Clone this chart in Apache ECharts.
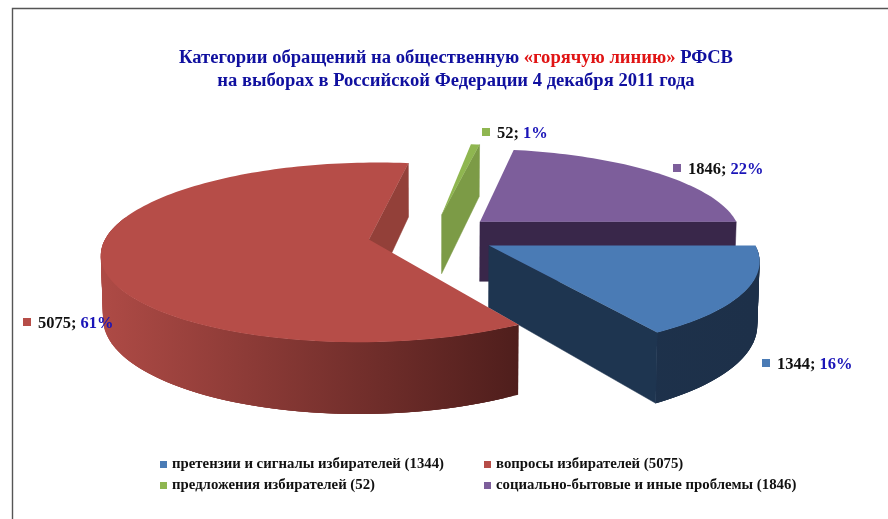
<!DOCTYPE html>
<html><head><meta charset="utf-8">
<style>html,body{margin:0;padding:0;background:#fff}#c{width:888px;height:519px}</style>
<script src="https://cdn.jsdelivr.net/npm/echarts@6/dist/echarts.min.js"></script>
</head><body><div id="c"></div>
<script>
const categories = ['претензии и сигналы избирателей', 'вопросы избирателей', 'предложения избирателей', 'социально-бытовые и иные проблемы'];
const values = [1344, 5075, 52, 1846];
const percents = [16, 61, 1, 22];

const topColors = ['#4A7BB5', '#B64D48', '#8FB650', '#7D5E9B'];
const sideColors = [['#1F3652', '#1D3049'], ['#AD4A45', '#4F1E1C'], ['#7A9A45', '#7A9A45'], ['#38263F', '#38263F']];
const cutColors = ['#1E3550', '#934039', '#7C9B46', '#39274A'];
const labelAnchors = [[766, 363], [27, 322], [486, 132], [677, 168]];
const drawOrder = [3, 2, 0, 1];

const FONT = '"Liberation Serif", serif';
const X0 = 432, Y0 = 235, R = 262, EXPLODE = 64, TILT = 0.331, PERSP = 0.143, DEPTH = 61, BOTTOM_X = 0.993;
const total = values.reduce((a, b) => a + b, 0);
const rad = d => d * Math.PI / 180;

function project(x, z, low) {
  const s = 1 / (1 - PERSP * z / R);
  return [X0 + x * s * (low ? BOTTOM_X : 1), Y0 + (TILT * z + (low ? DEPTH : 0)) * s];
}

function angles(i, value) {
  let before = 0;
  for (let k = 0; k < i; k++) before += values[k];
  const a0 = before / total * 360;
  return [a0, a0 + value / total * 360];
}

function sliceRenderer(i) {
  return function (params, api) {
    const [a0, a1] = angles(i, api.value(0));
    const mid = rad((a0 + a1) / 2);
    const ax = EXPLODE * Math.cos(mid), az = EXPLODE * Math.sin(mid);
    const rim = (deg, low) => project(ax + R * Math.cos(rad(deg)), az + R * Math.sin(rad(deg)), low);
    const children = [];

    // rim: overlapping quads over the half that faces the viewer (the top face hides any excess)
    const r0 = Math.max(a0, 0), r1 = Math.min(a1, 195);
    if (r1 > r0) {
      const step = 1.5;
      const xa = rim(180, false)[0], xb = rim(r0, true)[0];
      const grad = new echarts.graphic.LinearGradient(Math.min(xa, xb), 0, Math.max(xa, xb), 0,
        [{ offset: 0, color: sideColors[i][0] }, { offset: 1, color: sideColors[i][1] }], true);
      for (let d = r0; d < r1; d += step) {
        const e = Math.min(d + step * 3, r1);
        children.push({
          type: 'polygon',
          shape: { points: [rim(d, false), rim(e, false), rim(e, true), rim(d, true)] },
          style: { fill: grad }
        });
      }
    }
    // radial cut faces that point toward the viewer
    [[a0, -Math.cos(rad(a0))], [a1, Math.cos(rad(a1))]].forEach(([deg, facing]) => {
      if (facing > 0) {
        children.push({
          type: 'polygon',
          shape: { points: [project(ax, az, false), rim(deg, false), rim(deg, true), project(ax, az, true)] },
          style: { fill: cutColors[i], stroke: cutColors[i], lineWidth: 0.5 }
        });
      }
    });
    // top face
    const top = [project(ax, az, false)];
    for (let d = a0; d < a1; d += 1.5) top.push(rim(d, false));
    top.push(rim(a1, false));
    children.push({ type: 'polygon', shape: { points: top }, style: { fill: topColors[i] } });
    return { type: 'group', children };
  };
}

function labelRenderer(params, api) {
  const i = api.value(0);
  const [x, y] = labelAnchors[i];
  return {
    type: 'group',
    children: [
      { type: 'rect', shape: { x: x - 4, y: y - 4, width: 8, height: 8 }, style: { fill: topColors[i] } },
      {
        type: 'text', x: x + 11, y: y + 1.5,
        style: {
          text: '{n|' + values[i] + '; }{p|' + percents[i] + '%}',
          verticalAlign: 'middle', align: 'left',
          rich: {
            n: { fontFamily: FONT, fontWeight: 'bold', fontSize: 16.5, fill: '#111' },
            p: { fontFamily: FONT, fontWeight: 'bold', fontSize: 16.5, fill: '#1A14B8' }
          }
        }
      }
    ]
  };
}

const names = categories.map((c, i) => c + ' (' + values[i] + ')');
const legendBase = {
  orient: 'vertical', icon: 'rect', itemWidth: 7, itemHeight: 7, itemGap: 6, padding: 0,
  textStyle: { fontFamily: FONT, fontWeight: 'bold', fontSize: 14.8, color: '#111' }, selectedMode: false
};

const chart = echarts.init(document.getElementById('c'), null, { renderer: 'canvas' });
chart.setOption({
  animation: false,
  backgroundColor: '#fff',
  title: {
    left: 456, top: 47, textAlign: 'center', padding: 0,
    text: '{b|Категории обращений на общественную }{r|«горячую линию»}{b| РФСВ}\n{b|на выборах в Российской Федерации 4 декабря 2011 года}',
    textStyle: {
      rich: {
        b: { fontFamily: FONT, fontWeight: 'bold', fontSize: 18.6, lineHeight: 23, color: '#10109F' },
        r: { fontFamily: FONT, fontWeight: 'bold', fontSize: 18.6, lineHeight: 23, color: '#E01414' }
      }
    }
  },
  legend: [
    Object.assign({}, legendBase, { left: 160, top: 457, data: [names[0], names[2]] }),
    Object.assign({}, legendBase, { left: 484, top: 457, data: [names[1], names[3]] })
  ],
  graphic: [{
    type: 'polyline', silent: true,
    shape: { points: [[12.5, 519], [12.5, 8.5], [888, 8.5]] },
    style: { stroke: '#555', lineWidth: 1.4, fill: null }
  }],
  series: drawOrder.map(i => ({
    type: 'custom', name: names[i], coordinateSystem: 'none', silent: true,
    itemStyle: { color: topColors[i] },
    data: [[values[i]]],
    renderItem: sliceRenderer(i)
  })).concat([{
    type: 'custom', name: 'labels', coordinateSystem: 'none', silent: true, z: 10,
    data: values.map((v, i) => [i]),
    renderItem: labelRenderer
  }])
});
</script></body></html>
